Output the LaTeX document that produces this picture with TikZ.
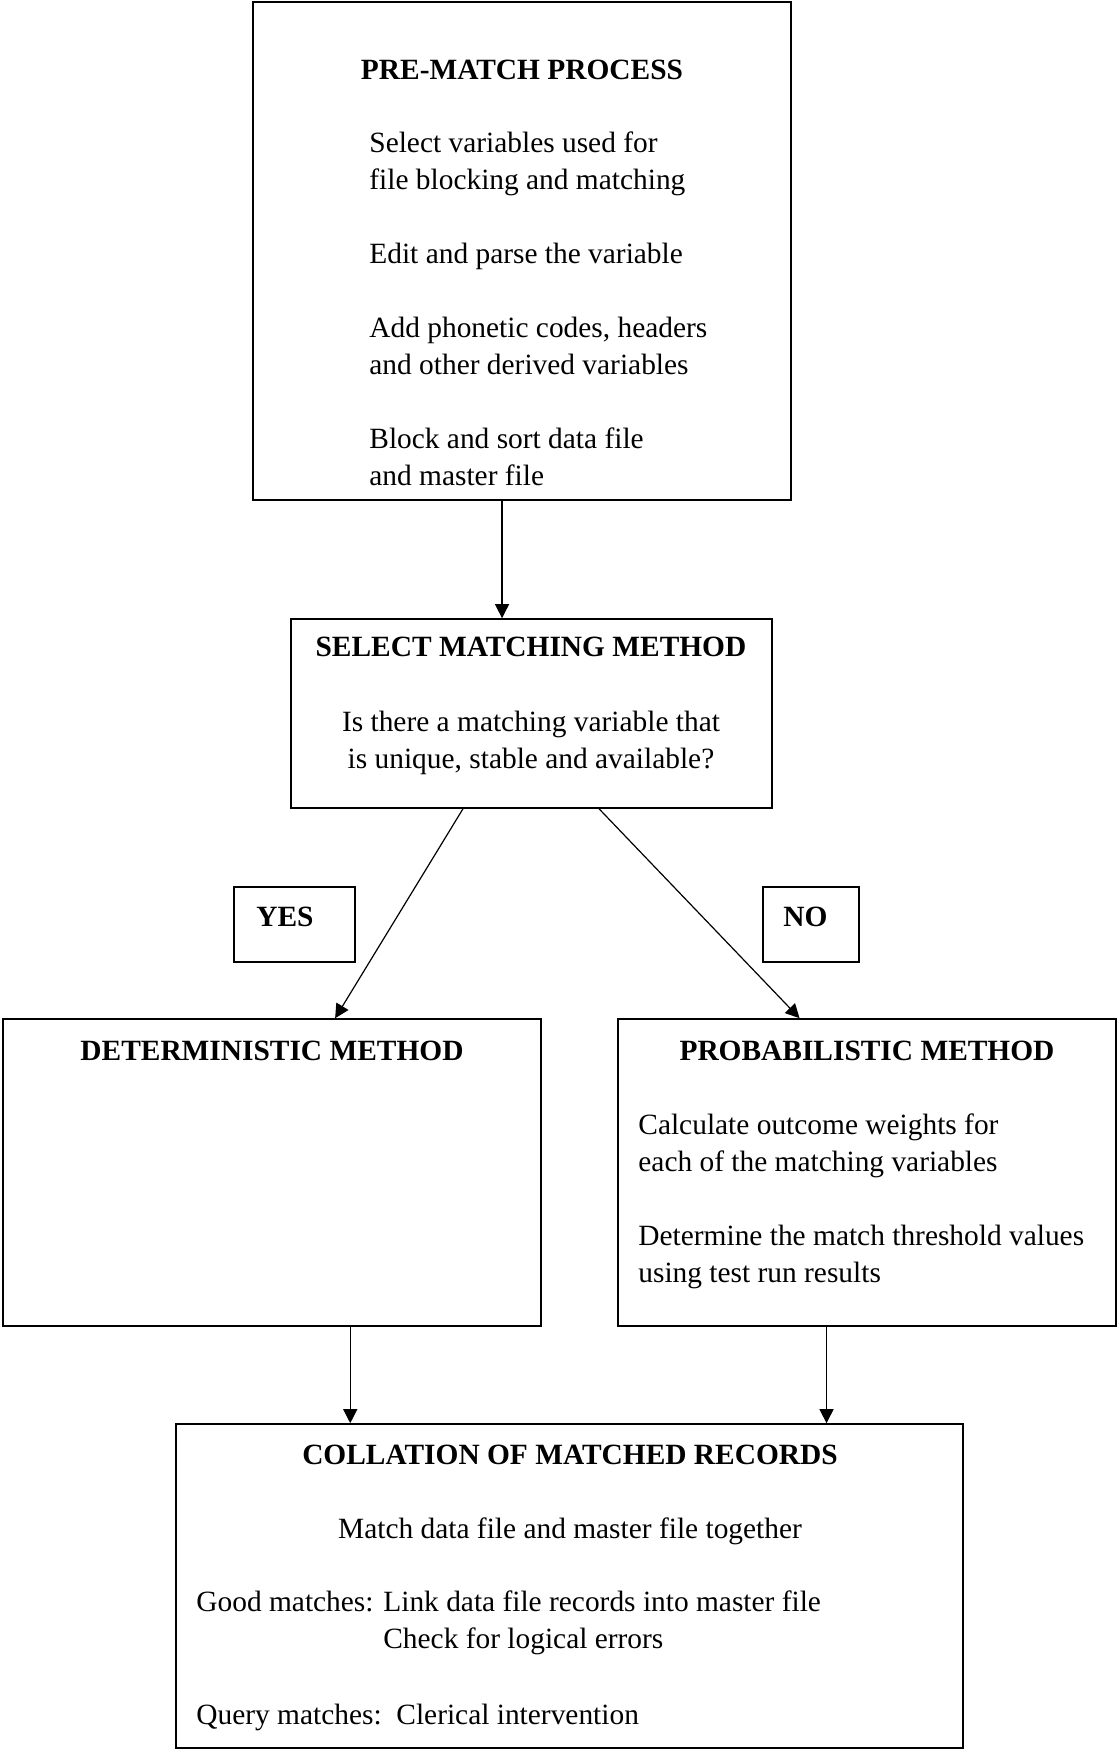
\documentclass[tikz,border=0pt]{standalone}
\usepackage{fontspec}
\setmainfont{Liberation Serif}
\usepackage{tikz}
\usetikzlibrary{arrows.meta,calc,positioning,fit}

\begin{document}
\begin{tikzpicture}[x=0.5pt,y=-0.5pt,
  kasten/.style={draw,line width=0.8pt,inner sep=0pt},
  titel/.style={font=\fontsize{14.7}{18.5}\selectfont\bfseries,inner sep=0pt,anchor=base},
  inhalt/.style={font=\fontsize{14.7}{18.5}\selectfont,inner sep=0pt,align=left,anchor=base west},
  pfeil/.style={line width=0.6pt,-{Triangle[length=7pt,width=7pt]}}]
%Rahmen in Pixeln der Vorlage (1117 x 1750), y zeigt nach unten
%Mehrzeilige Texte haengen an der Grundlinie ihrer letzten Zeile
\useasboundingbox (0,0) rectangle (1117,1750);
%Kaesten
\node[kasten,fit={(253,2) (791,500)}] (vorab) {};
\node[kasten,fit={(291,619) (772,808)}] (auswahl) {};
\node[kasten,fit={(234,887) (355,962)}] (ja) {};
\node[kasten,fit={(763,887) (859,962)}] (nein) {};
\node[kasten,fit={(3,1019) (541,1326)}] (determ) {};
\node[kasten,fit={(618,1019) (1116,1326)}] (probab) {};
\node[kasten,fit={(176,1424) (963,1748)}] (sammeln) {};
%Texte
\node[titel] (vorabtitel) at (522,80) {PRE-MATCH PROCESS};
\node[inhalt] (vorabtext) at (369,485) {Select variables used for\\file blocking and matching\\[18.5pt]Edit and parse the variable\\[18.5pt]Add phonetic codes, headers\\and other derived variables\\[18.5pt]Block and sort data file\\and master file};
\node[titel] (auswahltitel) at (531,656) {SELECT MATCHING METHOD};
\node[inhalt,align=center,anchor=base] (auswahltext) at (531,768) {Is there a matching variable that\\is unique, stable and available?};
\node[titel,anchor=base west] (jatext) at (256,926) {YES};
\node[titel,anchor=base west] (neintext) at (783,926) {NO};
\node[titel] (determtitel) at (272,1060) {DETERMINISTIC METHOD};
\node[titel] (probabtitel) at (867,1060) {PROBABILISTIC METHOD};
\node[inhalt] (probabtext) at (638,1282) {Calculate outcome weights for\\each of the matching variables\\[18.5pt]Determine the match threshold values\\using test run results};
\node[titel] (sammelntitel) at (570,1464) {COLLATION OF MATCHED RECORDS};
\node[inhalt,anchor=base] (sammelntext) at (570,1538) {Match data file and master file together};
\node[inhalt] (gut) at (196,1611) {\begin{tabular}[t]{@{}l@{ }l@{}}Good matches: & Link data file records into master file\\ & Check for logical errors\end{tabular}};
\node[inhalt] (fraglich) at (196,1724) {Query matches:\ \ Clerical intervention};
%Pfeile
\coordinate (v1) at ($(vorab.south west)!0.463!(vorab.south east)$);
\coordinate (a1) at ($(auswahl.south west)!0.358!(auswahl.south east)$);
\coordinate (a2) at ($(auswahl.south west)!0.64!(auswahl.south east)$);
\coordinate (d1) at ($(determ.north west)!0.617!(determ.north east)$);
\coordinate (p1) at ($(probab.north west)!0.365!(probab.north east)$);
\coordinate (d2) at ($(determ.south west)!0.645!(determ.south east)$);
\coordinate (p2) at ($(probab.south west)!0.419!(probab.south east)$);
\draw[pfeil] (v1) -- (v1 |- auswahl.north);
\draw[pfeil] (a1) -- (d1);
\draw[pfeil] (a2) -- (p1);
\draw[pfeil] (d2) -- (d2 |- sammeln.north);
\draw[pfeil] (p2) -- (p2 |- sammeln.north);
\end{tikzpicture}
\end{document}
